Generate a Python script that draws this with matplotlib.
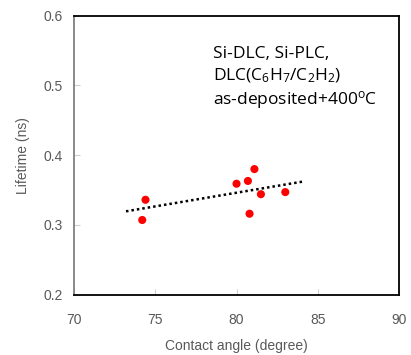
import matplotlib
matplotlib.use("Agg")
import matplotlib.pyplot as plt
import numpy as np

# contact angle (degree) vs lifetime (ns)
angle = [74.4, 74.2, 80.0, 80.7, 81.1, 80.8, 81.5, 83.0]
lifetime = [0.336, 0.307, 0.359, 0.363, 0.380, 0.316, 0.344, 0.347]

xticks = [70, 75, 80, 85, 90]
yticks = [0.2, 0.3, 0.4, 0.5, 0.6]

plt.rcParams['font.family'] = ['Liberation Sans', 'DejaVu Sans']
plt.rcParams['mathtext.fontset'] = 'custom'
plt.rcParams['mathtext.rm'] = 'Open Sans'
plt.rcParams['mathtext.it'] = 'Open Sans:italic'

fig = plt.figure(figsize=(4.11, 3.55), dpi=100)
ax = fig.add_axes([0.180, 0.170, 0.791, 0.786])

# linear trend line
k, b = np.polyfit(angle, lifetime, 1)
xf = np.array([73.2, 84.05])
ax.plot(xf, k*xf + b, color='black', linestyle=(0, (1, 1.2)), linewidth=1.8, zorder=2)

ax.scatter(angle, lifetime, s=34, color='#ff0000', edgecolors='none', zorder=3)

ax.set_xlim(70, 90)
ax.set_ylim(0.2, 0.6)
ax.set_xticks(xticks)
ax.set_yticks(yticks)
ax.set_xticklabels([str(t) for t in xticks])
ax.set_yticklabels(['%.1f' % t for t in yticks])
ax.tick_params(direction='in', length=4, width=0.8, color='#d0d0d0',
               labelcolor='#595959', labelsize=10, pad=8)
ax.tick_params(axis='x', pad=13)

for side in ['top', 'right', 'bottom']:
    ax.spines[side].set_color('black')
    ax.spines[side].set_linewidth(1.3)
ax.spines['left'].set_color('#808080')
ax.spines['left'].set_linewidth(1.3)

ax.set_xlabel('Contact angle (degree)', color='#595959', fontsize=10, labelpad=9)
ax.set_ylabel('Lifetime (ns)', color='#595959', fontsize=10, labelpad=10)

ax.text(0.428, 0.89,
        'Si-DLC, Si-PLC,\nDLC(C$_{\\rm 6}$H$_{\\rm 7}$/C$_{\\rm 2}$H$_{\\rm 2}$)\nas-deposited+400$^{\\rm o}$C',
        transform=ax.transAxes, fontsize=12.5, family=['Open Sans', 'DejaVu Sans'],
        va='top', ha='left', linespacing=1.28, color='black')

fig.savefig('out.png', dpi=100)
